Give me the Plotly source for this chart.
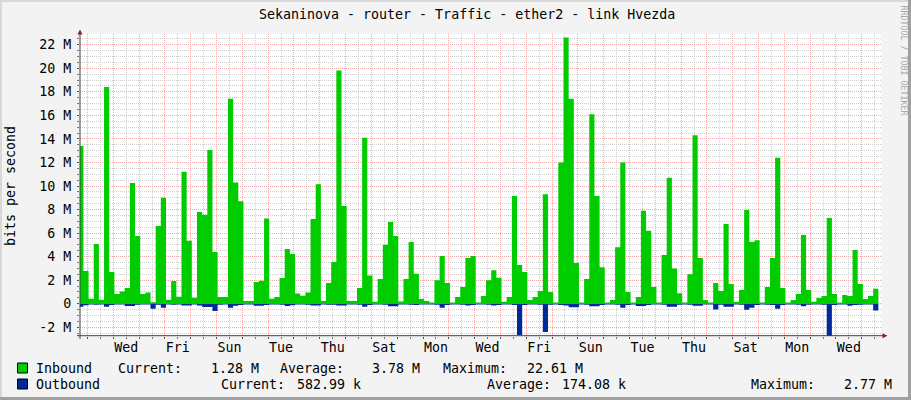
import plotly.graph_objects as go
import pandas as pd

# ---------------- data (values in Mbit/s, one per 4.8 h step) ----------------
inbound = [13.4, 2.78, 0.42, 5.07, 0.34, 18.4, 2.7, 0.82, 1.05, 1.33,
           10.25, 5.75, 0.82, 0.96, 0.12, 6.6, 9.0, 0.34, 1.93, 0.6,
           11.2, 5.35, 0.5, 7.8, 7.55, 13.06, 4.4, 0.57, 0.57, 17.4,
           10.3, 8.7, 0.23, 0.23, 1.84, 1.95, 7.25, 0.42, 0.57, 2.18,
           4.65, 4.22, 0.88, 0.68, 0.96, 7.2, 10.14, 0.23, 1.76, 3.54,
           19.8, 8.3, 0.23, 0.23, 1.33, 14.1, 2.4, 0.17, 2.1, 5.0,
           6.94, 5.75, 0.2, 2.1, 5.24, 2.55, 0.4, 0.23, 0.1, 2.0,
           4.05, 1.76, 0.1, 0.57, 1.42, 3.88, 4.05, 0.1, 0.65, 2.0,
           2.85, 2.2, 0.17, 0.57, 9.15, 3.3, 2.7, 0.31, 0.57, 1.08,
           9.3, 1.0, 0.1, 12.0, 22.61, 17.4, 3.46, 0.1, 2.1, 16.1,
           9.15, 3.1, 0.1, 0.31, 4.8, 12.0, 1.0, 0.1, 0.57, 7.9,
           6.2, 1.42, 0.1, 4.14, 10.7, 3.0, 0.9, 0.1, 2.5, 14.3,
           3.88, 0.31, 0.1, 1.76, 1.08, 6.77, 1.67, 0.17, 1.16, 7.96,
           5.24, 5.4, 0.1, 1.42, 3.88, 12.4, 1.33, 0.1, 0.31, 0.82,
           5.84, 1.16, 0.17, 0.48, 0.65, 7.28, 0.82, 0.1, 0.74, 0.65,
           4.56, 1.67, 0.4, 0.65, 1.28]

outbound = [0.25, 0.12, 0.06, 0.08, 0.06, 0.25, 0.1, 0.06, 0.06, 0.2,
            0.2, 0.08, 0.06, 0.06, 0.42, 0.08, 0.34, 0.06, 0.08, 0.06,
            0.14, 0.14, 0.06, 0.16, 0.28, 0.28, 0.62, 0.08, 0.06, 0.34,
            0.17, 0.1, 0.06, 0.06, 0.17, 0.17, 0.1, 0.06, 0.06, 0.08,
            0.2, 0.12, 0.06, 0.06, 0.08, 0.16, 0.16, 0.06, 0.08, 0.08,
            0.16, 0.16, 0.06, 0.06, 0.08, 0.25, 0.1, 0.06, 0.06, 0.08,
            0.22, 0.22, 0.06, 0.06, 0.08, 0.1, 0.06, 0.06, 0.06, 0.08,
            0.34, 0.1, 0.06, 0.06, 0.08, 0.14, 0.1, 0.06, 0.06, 0.08,
            0.14, 0.1, 0.06, 0.06, 0.1, 2.66, 0.1, 0.06, 0.06, 0.08,
            2.4, 0.08, 0.06, 0.1, 0.14, 0.3, 0.3, 0.06, 0.08, 0.22,
            0.22, 0.1, 0.06, 0.06, 0.08, 0.34, 0.1, 0.06, 0.2, 0.2,
            0.1, 0.06, 0.06, 0.08, 0.25, 0.25, 0.08, 0.06, 0.08, 0.17,
            0.17, 0.06, 0.06, 0.48, 0.08, 0.25, 0.25, 0.06, 0.08, 0.5,
            0.34, 0.1, 0.06, 0.08, 0.1, 0.42, 0.1, 0.06, 0.06, 0.08,
            0.22, 0.08, 0.06, 0.06, 0.08, 2.77, 0.1, 0.06, 0.06, 0.17,
            0.1, 0.08, 0.06, 0.06, 0.583]

first_step = "2024-01-01 15:24"
step_minutes = 288
x_start, x_end = "2024-01-01 17:02", "2024-02-01 17:52"

y_tick_vals = [-2, 0, 2, 4, 6, 8, 10, 12, 14, 16, 18, 20, 22]
y_tick_text = ["-2 M", "0", "2 M", "4 M", "6 M", "8 M", "10 M", "12 M",
               "14 M", "16 M", "18 M", "20 M", "22 M"]

x_tick_dates = ["2024-01-03 12:00", "2024-01-05 12:00", "2024-01-07 12:00",
                "2024-01-09 12:00", "2024-01-11 12:00", "2024-01-13 12:00",
                "2024-01-15 12:00", "2024-01-17 12:00", "2024-01-19 12:00",
                "2024-01-21 12:00", "2024-01-23 12:00", "2024-01-25 12:00",
                "2024-01-27 12:00", "2024-01-29 12:00", "2024-01-31 12:00"]
x_tick_labels = ["Wed", "Fri", "Sun", "Tue", "Thu", "Sat", "Mon", "Wed",
                 "Fri", "Sun", "Tue", "Thu", "Sat", "Mon", "Wed"]

title_text = "Sekaninova - router - Traffic - ether2 - link Hvezda"
series_names = ["Inbound", "Outbound"]
stats_in = ["1.28 M", "3.78 M", "22.61 M"]
stats_out = ["582.99 k", "174.08 k", "2.77 M"]

# ---------------- styling ----------------
W, H = 911, 400
L, R, T, B = 80, 30, 34, 64
PW, PH = W - L - R, H - T - B
FONT = "DejaVu Sans Mono"
GREEN, BLUE = "#00CC00", "#002A97"
GRID_MAJOR, GRID_MINOR = "#F2A8A8", "#CFCFCF"
BG = "#F3F3F3"


def px(x):
    return (x - L) / PW


def py(y):
    return (H - B - y) / PH


times = pd.date_range(first_step, periods=len(inbound) + 1, freq=f"{step_minutes}min")

fig = go.Figure()
fig.add_trace(go.Scatter(x=times, y=inbound + [inbound[-1]], mode="lines",
                         line=dict(width=0, shape="hv", color=GREEN),
                         fill="tozeroy", fillcolor=GREEN, hoverinfo="skip",
                         showlegend=False))
fig.add_trace(go.Scatter(x=times, y=[-v for v in outbound] + [-outbound[-1]], mode="lines",
                         line=dict(width=0, shape="hv", color=BLUE),
                         fill="tozeroy", fillcolor=BLUE, hoverinfo="skip",
                         showlegend=False))
# helper trace to carry the label axis
fig.add_trace(go.Scatter(x=[x_start, x_end], y=[0, 0], xaxis="x2", mode="lines",
                         line=dict(width=0), opacity=0, hoverinfo="skip",
                         showlegend=False))

fig.update_layout(
    width=W, height=H,
    margin=dict(l=L, r=R, t=T, b=B, pad=0),
    paper_bgcolor=BG, plot_bgcolor="#FFFFFF",
    font=dict(family=FONT, size=13.3, color="#000000"),
    hovermode=False,
    xaxis=dict(type="date", range=[x_start, x_end], tick0="2024-01-01",
               dtick=86400000, showticklabels=False, showgrid=True,
               gridcolor=GRID_MAJOR, griddash="1px,1px", gridwidth=1,
               ticks="outside", ticklen=2, tickcolor="#555555",
               zeroline=False, showline=False,
               minor=dict(dtick=43200000, tick0="2024-01-01 12:00", showgrid=True,
                          gridcolor=GRID_MINOR, griddash="1px,1px",
                          ticks="outside", ticklen=2, tickcolor="#777777")),
    xaxis2=dict(type="date", range=[x_start, x_end], overlaying="x", anchor="y",
                side="bottom", tickmode="array", tickvals=x_tick_dates,
                ticktext=x_tick_labels, showgrid=False, ticks="", zeroline=False,
                showline=False, tickfont=dict(family=FONT, size=13.3),
                ticklabelstandoff=2),
    yaxis=dict(range=[-2.74, 22.91], tickmode="array", tickvals=y_tick_vals,
               ticktext=y_tick_text, showgrid=True, gridcolor=GRID_MAJOR,
               griddash="1px,1px", zeroline=False, showline=False,
               ticks="outside", ticklen=2, tickcolor="#555555",
               tickfont=dict(family=FONT, size=13.3), ticklabelstandoff=3,
               minor=dict(tickmode="linear", tick0=0, dtick=0.5, showgrid=True,
                          gridcolor=GRID_MINOR, griddash="1px,1px",
                          ticks="outside", ticklen=2, tickcolor="#777777")),
)

AX = "#404040"
ARROW = "#8B2020"
shapes = [
    # axes
    dict(type="line", xref="paper", yref="paper", x0=px(77), x1=px(883),
         y0=py(335.7), y1=py(335.7), line=dict(color=AX, width=1)),
    dict(type="line", xref="paper", yref="paper", x0=px(80), x1=px(80),
         y0=py(339), y1=py(33), line=dict(color=AX, width=1)),
    # arrows
    dict(type="path", xref="paper", yref="paper",
         path=f"M {px(77.5)} {py(34.5)} L {px(82.5)} {py(34.5)} L {px(80)} {py(29.5)} Z",
         fillcolor=ARROW, line=dict(width=0)),
    dict(type="path", xref="paper", yref="paper",
         path=f"M {px(882.5)} {py(333.2)} L {px(882.5)} {py(338.2)} L {px(887.5)} {py(335.7)} Z",
         fillcolor=ARROW, line=dict(width=0)),
    # legend boxes
    dict(type="rect", xref="paper", yref="paper", x0=px(17.5), x1=px(27.5),
         y0=py(363), y1=py(373), fillcolor=GREEN, line=dict(color="#000000", width=1)),
    dict(type="rect", xref="paper", yref="paper", x0=px(17.5), x1=px(27.5),
         y0=py(379), y1=py(389), fillcolor=BLUE, line=dict(color="#000000", width=1)),
    # frame shading
    dict(type="rect", xref="paper", yref="paper", x0=px(908), x1=px(911),
         y0=py(0), y1=py(400), fillcolor="#A0A0A0", line=dict(width=0)),
    dict(type="rect", xref="paper", yref="paper", x0=px(0), x1=px(911),
         y0=py(397), y1=py(400), fillcolor="#A0A0A0", line=dict(width=0)),
    dict(type="rect", xref="paper", yref="paper", x0=px(0), x1=px(2),
         y0=py(0), y1=py(397), fillcolor="#D8D8D8", line=dict(width=0)),
    dict(type="rect", xref="paper", yref="paper", x0=px(0), x1=px(908),
         y0=py(0), y1=py(2), fillcolor="#D8D8D8", line=dict(width=0)),
]
fig.update_layout(shapes=shapes)


def ann(text, x, y, anchor="left", **kw):
    fig.add_annotation(text=text, xref="paper", yref="paper", x=px(x), y=py(y),
                       xanchor=anchor, yanchor="middle", showarrow=False,
                       font=dict(family=FONT, size=kw.pop("size", 13.3),
                                 color=kw.pop("color", "#000000")), **kw)


ann(title_text, 466.5, 14, anchor="center")
ann("bits per second", 10, 186, anchor="center", textangle=-90)
ann("RRDTOOL / TOBI OETIKER", 903.5, 60, anchor="center", textangle=90,
    size=8.3, color="#A8A8A8")

row1, row2 = 368, 384
ann(series_names[0], 33.5, row1)
ann("Current:", 116, row1)
ann(stats_in[0], 260.5, row1, anchor="right")
ann("Average:", 278, row1)
ann(stats_in[1], 422, row1, anchor="right")
ann("Maximum:", 440.5, row1)
ann(stats_in[2], 585, row1, anchor="right")

ann(series_names[1], 33.5, row2)
ann("Current:", 218.5, row2)
ann(stats_out[0], 362.5, row2, anchor="right")
ann("Average:", 484.5, row2)
ann(stats_out[1], 627.5, row2, anchor="right")
ann("Maximum:", 748.5, row2)
ann(stats_out[2], 894, row2, anchor="right")

fig.write_html("out.html", config={"displayModeBar": False, "staticPlot": True},
               post_script="document.body.style.margin='0px';")
